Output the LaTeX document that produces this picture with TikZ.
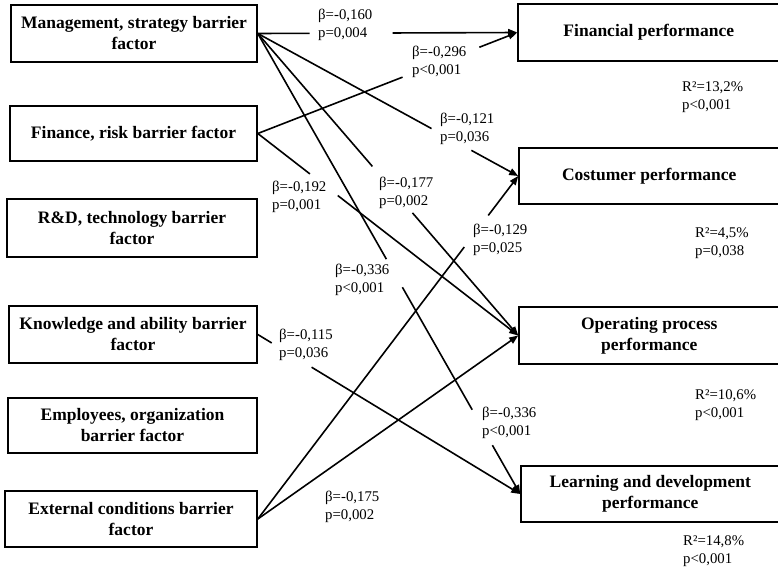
\documentclass[tikz,border=0pt]{standalone}
\usepackage{fontspec}
\setmainfont{Liberation Serif}
\usetikzlibrary{calc,arrows.meta}
\begin{document}
\begin{tikzpicture}[x=1pt,y=-1pt,
  factorbox/.style={draw,line width=1.6pt,align=center,inner sep=0pt,
    font=\fontsize{17.5}{21}\selectfont\bfseries},
  stat/.style={align=left,anchor=west,inner sep=0pt,
    font=\fontsize{14.8}{17.5}\selectfont},
  link/.style={line width=1.6pt},
  arrow/.style={link,-{Triangle[length=9pt,width=7pt]}}]
\useasboundingbox (0,0) rectangle (778,568);
\clip (0,0) rectangle (778,568);

% barrier factors
\node[factorbox,minimum width=246pt,minimum height=57pt] (mgmt) at (134,33.5) {Management, strategy barrier\\factor};
\node[factorbox,minimum width=247pt,minimum height=55pt] (fin) at (133.5,133.5) {Finance, risk barrier factor};
\node[factorbox,minimum width=250pt,minimum height=58pt] (rd) at (132,228) {R\&D, technology barrier\\factor};
\node[factorbox,minimum width=248pt,minimum height=57pt] (know) at (133,334.5) {Knowledge and ability barrier\\factor};
\node[factorbox,minimum width=249pt,minimum height=55pt] (empl) at (132.5,425.5) {Employees, organization\\barrier factor};
\node[factorbox,minimum width=252pt,minimum height=56pt] (ext) at (131,519) {External conditions barrier\\factor};

% performance dimensions
\node[factorbox,minimum width=261.5pt,minimum height=57pt] (pfin) at (648.75,32.5) {Financial performance};
\node[factorbox,minimum width=260.5pt,minimum height=56pt] (pcus) at (649.25,176) {Costumer performance};
\node[factorbox,minimum width=260.5pt,minimum height=57pt] (pope) at (649.25,335.5) {Operating process\\performance};
\node[factorbox,minimum width=258.5pt,minimum height=56pt] (plea) at (650.25,494) {Learning and development\\performance};

% path coefficients
\node[stat] (s160) at (318,25) {β=-0,160\\p=0,004};
\node[stat] (s296) at (412,62) {β=-0,296\\p<0,001};
\node[stat] (s121) at (440,129) {β=-0,121\\p=0,036};
\node[stat] (s177) at (379,193) {β=-0,177\\p=0,002};
\node[stat] (s192) at (272,197) {β=-0,192\\p=0,001};
\node[stat] (s336a) at (335,280) {β=-0,336\\p<0,001};
\node[stat] (s129) at (473,240) {β=-0,129\\p=0,025};
\node[stat] (s115) at (279,345) {β=-0,115\\p=0,036};
\node[stat] (s336b) at (482,423) {β=-0,336\\p<0,001};
\node[stat] (s175) at (325,507) {β=-0,175\\p=0,002};

% explained variance
\node[stat] (r1) at (682,97) {R²=13,2\%\\p<0,001};
\node[stat] (r2) at (695,243) {R²=4,5\%\\p=0,038};
\node[stat] (r3) at (695,405) {R²=10,6\%\\p<0,001};
\node[stat] (r4) at (683,551) {R²=14,8\%\\p<0,001};

% paths, interrupted where a coefficient is printed
\draw[link] (mgmt.east) -- ($(mgmt.east)!0.20!(pfin.west)$);
\draw[arrow] ($(mgmt.east)!0.52!(pfin.west)$) -- (pfin.west);

\draw[link] (fin.east) -- ($(fin.east)!0.558!(pfin.west)$);
\draw[arrow] ($(fin.east)!0.854!(pfin.west)$) -- (pfin.west);

\draw[link] (mgmt.east) -- ($(mgmt.east)!0.667!(pcus.west)$);
\draw[arrow] ($(mgmt.east)!0.82!(pcus.west)$) -- (pcus.west);

\draw[link] (mgmt.east) -- ($(mgmt.east)!0.44!(pope.west)$);
\draw[arrow] ($(mgmt.east)!0.594!(pope.west)$) -- (pope.west);

\draw[link] (mgmt.east) -- ($(mgmt.east)!0.49!(plea.west)$);
\draw[link] ($(mgmt.east)!0.551!(plea.west)$) -- ($(mgmt.east)!0.817!(plea.west)$);
\draw[arrow] ($(mgmt.east)!0.894!(plea.west)$) -- (plea.west);

\draw[link] (fin.east) -- ($(fin.east)!0.2!(pope.west)$);
\draw[arrow] ($(fin.east)!0.307!(pope.west)$) -- (pope.west);

\draw[link] (know.east) -- ($(know.east)!0.053!(plea.west)$);
\draw[arrow] ($(know.east)!0.205!(plea.west)$) -- (plea.west);

\draw[link] (ext.east) -- ($(ext.east)!0.793!(pcus.west)$);
\draw[arrow] ($(ext.east)!0.885!(pcus.west)$) -- (pcus.west);

\draw[arrow] (ext.east) -- (pope.west);
\end{tikzpicture}
\end{document}
